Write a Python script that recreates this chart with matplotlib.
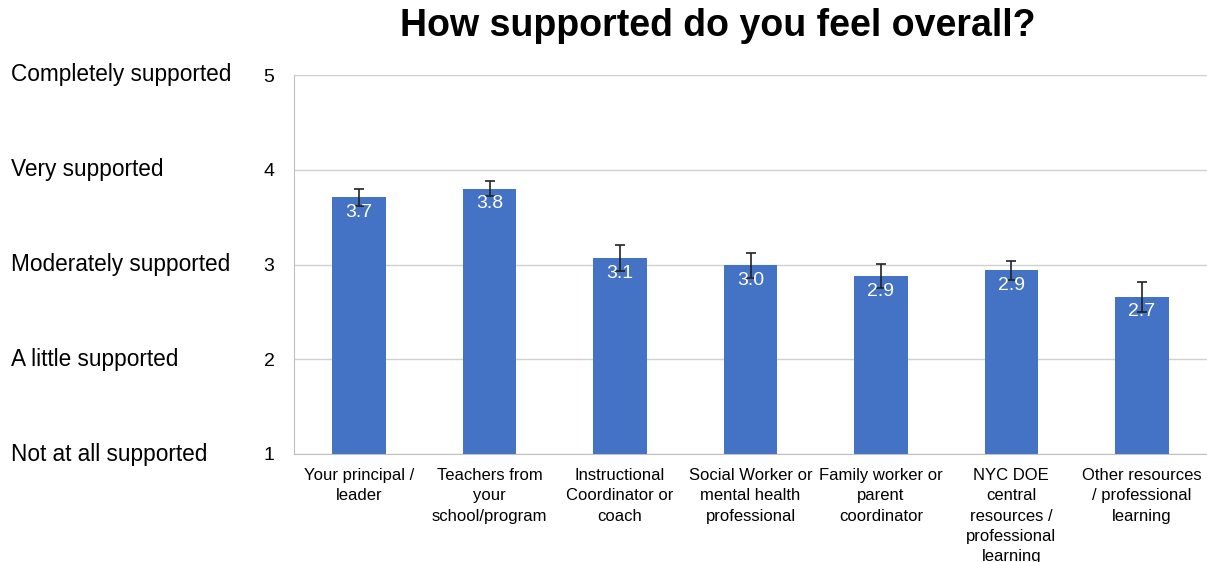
import matplotlib
matplotlib.use("Agg")
import matplotlib.pyplot as plt

plt.rcParams['font.family'] = ['Liberation Sans', 'DejaVu Sans']

categories = ["Your principal /\nleader", "Teachers from\nyour\nschool/program",
              "Instructional\nCoordinator or\ncoach", "Social Worker or\nmental health\nprofessional",
              "Family worker or\nparent\ncoordinator", "NYC DOE\ncentral\nresources /\nprofessional\nlearning",
              "Other resources\n/ professional\nlearning"]
means = [3.71, 3.80, 3.07, 2.99, 2.88, 2.94, 2.66]
errors = [0.09, 0.08, 0.14, 0.13, 0.13, 0.10, 0.16]
value_labels = ["3.7", "3.8", "3.1", "3.0", "2.9", "2.9", "2.7"]
scale_labels = ["Not at all supported", "A little supported", "Moderately supported",
                "Very supported", "Completely supported"]
scale_ticks = [1, 2, 3, 4, 5]

fig = plt.figure(figsize=(12.07, 5.62), dpi=100)
ax = fig.add_axes([294 / 1207, 1 - 454 / 562, 913 / 1207, 379 / 562])

x = range(len(categories))
heights = [m - 1 for m in means]
ax.bar(x, heights, bottom=1, width=0.41, color="#4472C4", zorder=2)
ax.errorbar(x, means, yerr=errors, fmt="none", ecolor="#222222", elinewidth=1.2,
            capsize=3.5, capthick=1.2, zorder=3)

for i, (m, lab) in enumerate(zip(means, value_labels)):
    ax.text(i, m - 0.07, lab, ha="center", va="top", color="white", fontsize=14)

ax.set_xlim(-0.5, len(categories) - 0.5)
ax.set_ylim(1, 5)
ax.set_yticks(scale_ticks)
ax.set_yticklabels([str(t) for t in scale_ticks], fontsize=14)
ax.tick_params(axis="y", length=0, pad=14)
ax.set_xticks(list(x))
ax.set_xticklabels(categories, fontsize=12, linespacing=1.45)
ax.tick_params(axis="x", length=0, pad=10)
ax.yaxis.grid(True, color="#d0d0d0", linewidth=1, zorder=0)
for s in ["top", "right"]:
    ax.spines[s].set_visible(False)
ax.spines["left"].set_color("#c0c0c0")
ax.spines["bottom"].set_color("#c0c0c0")

# scale descriptions on the left
for t, lab in zip(scale_ticks, scale_labels):
    fig.text(11 / 1207, ax.transData.transform((0, t))[1] / 562, lab,
             ha="left", va="center", fontsize=16.3)

fig.suptitle("How supported do you feel overall?", x=718 / 1207, y=0.985,
             fontsize=27, fontweight="bold")

fig.savefig("out.png", dpi=100)
